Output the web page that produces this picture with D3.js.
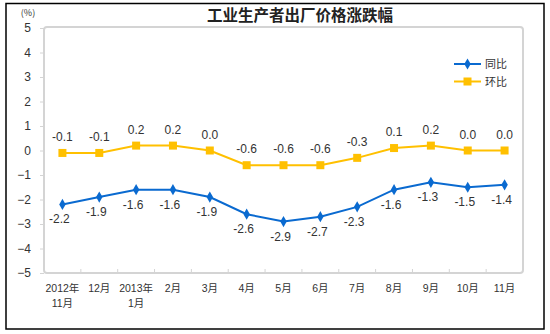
<!DOCTYPE html>
<html><head><meta charset="utf-8">
<script src="https://cdn.jsdelivr.net/npm/d3@7"></script>
<style>body{margin:0;background:#fff}</style>
</head><body>
<script>
const categories = [["2012年","11月"],["12月"],["2013年","1月"],["2月"],["3月"],["4月"],["5月"],["6月"],["7月"],["8月"],["9月"],["10月"],["11月"]];
const yoy = [-2.2,-1.9,-1.6,-1.6,-1.9,-2.6,-2.9,-2.7,-2.3,-1.6,-1.3,-1.5,-1.4];
const mom = [-0.1,-0.1,0.2,0.2,0.0,-0.6,-0.6,-0.6,-0.3,0.1,0.2,0.0,0.0];
const yTicks = [5,4,3,2,1,0,-1,-2,-3,-4,-5];
const seriesNames = ["同比","环比"];
const title = "工业生产者出厂价格涨跌幅";

const W=550,H=334;
const svg=d3.select("body").append("svg").attr("width",W).attr("height",H);
svg.append("rect").attr("x",6).attr("y",3.5).attr("width",538).attr("height",325.5)
  .attr("fill","#fff").attr("stroke","#000").attr("stroke-width",1.5);

const L=44,R=523,T=28,B=273;
const x=d3.scaleBand().domain(d3.range(categories.length)).range([L,R]);
const y=d3.scaleLinear().domain([-5,5]).range([B,T]);

svg.append("rect").attr("x",L).attr("y",T-1).attr("width",R-L).attr("height",B-T+1)
  .attr("rx",3).attr("fill","none").attr("stroke","#d4d4d4").attr("stroke-width",2);

// y axis
const ya=svg.append("g").attr("transform",`translate(${L},0)`)
  .call(d3.axisLeft(y).tickValues(yTicks).tickSize(4).tickFormat(d3.format("d")));
ya.select(".domain").remove();
ya.selectAll("line").attr("stroke","#d4d4d4");
ya.selectAll("text").attr("font-family","Liberation Sans, Arial").attr("font-size",12).attr("fill","#333").attr("x",-13);

// x ticks at band boundaries
const xa=svg.append("g").attr("transform",`translate(0,${B})`);
xa.selectAll("line").data(d3.range(1,categories.length)).join("line")
  .attr("x1",i=>x(i)).attr("x2",i=>x(i)).attr("y1",-4).attr("y2",0).attr("stroke","#d4d4d4");
xa.selectAll("text").data(categories).join("text")
  .attr("x",(d,i)=>x(i)+x.bandwidth()/2).attr("y",19)
  .attr("text-anchor","middle").attr("font-family","Liberation Sans, Noto Sans CJK SC").attr("font-size",10.5).attr("fill","#333")
  .each(function(d){
    const t=d3.select(this);
    d.forEach((s,k)=>t.append("tspan").attr("x",t.attr("x")).attr("dy",k?15:0).text(s));
  });

svg.append("text").attr("x",28).attr("y",16).attr("text-anchor","middle")
  .attr("font-family","Noto Sans CJK SC").attr("font-size",9).attr("fill","#333").text("(%)");
svg.append("text").attr("x",300).attr("y",21).attr("text-anchor","middle")
  .attr("font-family","Noto Sans CJK SC").attr("font-weight","bold").attr("font-size",15.5).attr("fill","#222").text(title);

const cx=i=>x(i)+x.bandwidth()/2;
const line=d3.line().x((d,i)=>cx(i)).y(d=>y(d));
const blue="#0a6ad0", gold="#ffc000";

svg.append("path").datum(mom).attr("d",line).attr("fill","none").attr("stroke",gold).attr("stroke-width",2);
svg.selectAll(".sq").data(mom).join("rect").attr("x",(d,i)=>cx(i)-4).attr("y",d=>y(d)-4)
  .attr("width",8).attr("height",8).attr("fill",gold);
svg.append("path").datum(yoy).attr("d",line).attr("fill","none").attr("stroke",blue).attr("stroke-width",2);
const dia=d3.symbol().type(d3.symbolDiamond).size(36);
svg.selectAll(".dm").data(yoy).join("path").attr("d",dia)
  .attr("transform",(d,i)=>`translate(${cx(i)},${y(d)})`).attr("fill",blue);

const lf="Liberation Sans, Arial";
svg.selectAll(".ml").data(mom).join("text").attr("x",(d,i)=>cx(i)).attr("y",d=>y(d)-12)
  .attr("text-anchor","middle").attr("font-family",lf).attr("font-size",12).attr("fill","#333").text(d=>d.toFixed(1));
svg.selectAll(".yl").data(yoy).join("text").attr("x",(d,i)=>cx(i)-3).attr("y",d=>y(d)+19)
  .attr("text-anchor","middle").attr("font-family",lf).attr("font-size",12).attr("fill","#333").text(d=>d.toFixed(1));

// legend
const lg=svg.append("g");
[[blue,"d"],[gold,"s"]].forEach(([c,m],k)=>{
  const yy=64+k*17.5;
  lg.append("line").attr("x1",454).attr("x2",481).attr("y1",yy).attr("y2",yy).attr("stroke",c).attr("stroke-width",2);
  if(m==="d") lg.append("path").attr("d",dia).attr("transform",`translate(467.5,${yy})`).attr("fill",c);
  else lg.append("rect").attr("x",463.5).attr("y",yy-4).attr("width",8).attr("height",8).attr("fill",c);
  lg.append("text").attr("x",485).attr("y",yy+4).attr("font-family","Noto Sans CJK SC").attr("font-size",11).attr("fill","#333").text(seriesNames[k]);
});
</script>
</body></html>
